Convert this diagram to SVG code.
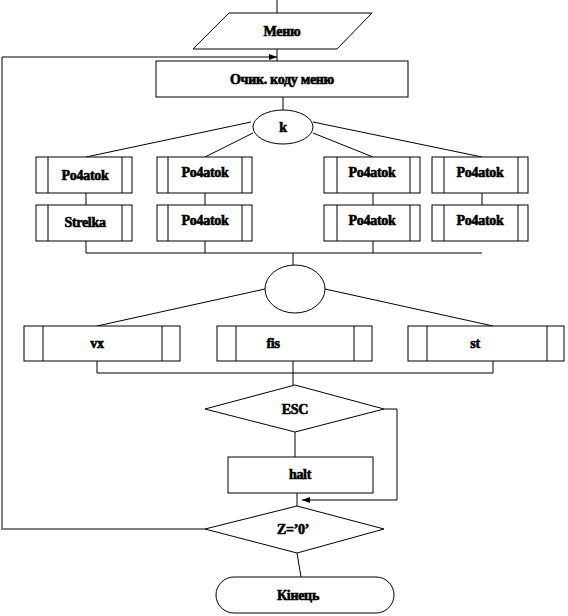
<svg xmlns="http://www.w3.org/2000/svg" width="568" height="616" viewBox="0 0 568 616">
<style>
.s{fill:#fff;stroke:#000;stroke-width:1}
.l{fill:none;stroke:#000;stroke-width:1}
.t{font-family:'Liberation Serif','DejaVu Serif',serif;font-weight:bold;font-size:14px;fill:#000;stroke:#000;stroke-width:0.6;text-anchor:middle;dominant-baseline:central;letter-spacing:-0.3px}
</style>
<defs>
<marker id="ah" markerWidth="8" markerHeight="6" refX="8" refY="3" orient="auto" markerUnits="userSpaceOnUse">
<path d="M0,0 L8,3 L0,6 Z" fill="#000"/>
</marker>
</defs>
<rect width="568" height="616" fill="#fff"/>
<g id="connectors">
<path class="l" d="M277,0 V13"/>
<path class="l" d="M277,49 V61"/>
<path class="l" d="M283,97 V110"/>
<path class="l" d="M251,122 L86,157"/>
<path class="l" d="M253,133 L205,157"/>
<path class="l" d="M313,133 L373,157"/>
<path class="l" d="M313,122 L482,157"/>
<path class="l" d="M86,193 V205 M205,193 V205 M373,193 V205 M482,193 V205"/>
<path class="l" d="M86,241 V253 H482 M205,241 V253 M373,241 V253 M293,253 V265"/>
<path class="l" d="M265,289 L97,326"/>
<path class="l" d="M325,289 L493,326"/>
<path class="l" d="M97,361 V373 H493 V361 M293,361 V385"/>
<path class="l" d="M295,432 V457"/>
<path class="l" d="M384,409 H397 V500 H302" marker-end="url(#ah)"/>
<path class="l" d="M297,493 V506"/>
<path class="l" d="M297,553 L301,577"/>
<path class="l" d="M205,529 H2"/>
<path fill="none" stroke="#808080" stroke-width="2" d="M2,530 V57"/>
<path class="l" d="M2,57 H277" marker-end="url(#ah)"/>
</g>
<g id="menu">
<polygon class="s" points="229,13 372,13 337,49 193,49"/>
<text class="t" x="282" y="31">Меню</text>
</g>
<g id="wait">
<rect class="s" x="156" y="61" width="252" height="36"/>
<text class="t" x="282" y="79">Очик. коду меню</text>
</g>
<g id="k">
<ellipse class="s" cx="283" cy="127" rx="30" ry="17"/>
<text class="t" x="283" y="127">k</text>
</g>
<g id="p1">
<rect class="s" x="36" y="157" width="96" height="36"/>
<path class="l" d="M48,157 V193 M122,157 V193"/>
<text class="t" x="85" y="175">Po4atok</text>
</g>
<g id="p2">
<rect class="s" x="157" y="157" width="95" height="36"/>
<path class="l" d="M168,157 V193 M242,157 V193"/>
<text class="t" x="205" y="172">Po4atok</text>
</g>
<g id="p3">
<rect class="s" x="324" y="157" width="96" height="36"/>
<path class="l" d="M337,157 V193 M410,157 V193"/>
<text class="t" x="372" y="172">Po4atok</text>
</g>
<g id="p4">
<rect class="s" x="432" y="157" width="96" height="36"/>
<path class="l" d="M444,157 V193 M518,157 V193"/>
<text class="t" x="480" y="172">Po4atok</text>
</g>
<g id="strelka">
<rect class="s" x="36" y="205" width="96" height="36"/>
<path class="l" d="M48,205 V241 M122,205 V241"/>
<text class="t" x="85" y="222">Strelka</text>
</g>
<g id="p6">
<rect class="s" x="157" y="205" width="95" height="36"/>
<path class="l" d="M168,205 V241 M242,205 V241"/>
<text class="t" x="205" y="220">Po4atok</text>
</g>
<g id="p7">
<rect class="s" x="324" y="205" width="96" height="36"/>
<path class="l" d="M337,205 V241 M410,205 V241"/>
<text class="t" x="372" y="220">Po4atok</text>
</g>
<g id="p8">
<rect class="s" x="432" y="205" width="96" height="36"/>
<path class="l" d="M444,205 V241 M518,205 V241"/>
<text class="t" x="480" y="220">Po4atok</text>
</g>
<g id="choice">
<ellipse class="s" cx="295" cy="289" rx="30" ry="24"/>
</g>
<g id="vx">
<rect class="s" x="24" y="326" width="156" height="35"/>
<path class="l" d="M43,326 V361 M162,326 V361"/>
<text class="t" x="97" y="343">vx</text>
</g>
<g id="fis">
<rect class="s" x="217" y="326" width="155" height="35"/>
<path class="l" d="M236,326 V361 M354,326 V361"/>
<text class="t" x="273" y="343">fis</text>
</g>
<g id="st">
<rect class="s" x="408" y="326" width="156" height="35"/>
<path class="l" d="M427,326 V361 M547,326 V361"/>
<text class="t" x="475" y="343">st</text>
</g>
<g id="esc">
<polygon class="s" points="295,385 384,409 295,432 205,409"/>
<text class="t" x="295" y="409">ESC</text>
</g>
<g id="halt">
<rect class="s" x="228" y="457" width="145" height="36"/>
<text class="t" x="300" y="474">halt</text>
</g>
<g id="z0">
<polygon class="s" points="297,506 384,529 297,553 205,529"/>
<text class="t" x="293" y="529">Z=’0’</text>
</g>
<g id="end">
<rect class="s" x="216" y="577" width="178" height="36" rx="18" ry="18"/>
<text class="t" x="298" y="595">Кінець</text>
</g>
</svg>
